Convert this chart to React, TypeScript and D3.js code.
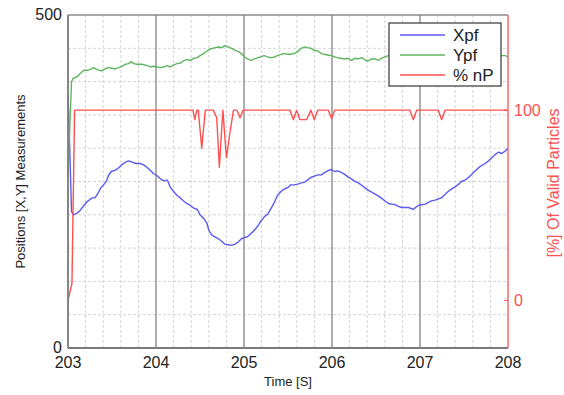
import React from "react";
import * as d3 from "d3";

// ---- data (time [s], value) ----
const xpf: [number, number][] = [
  [203.0, 380], [203.02, 300], [203.04, 205], [203.06, 200], [203.1, 202], [203.14, 207], [203.18, 214],
  [203.22, 220], [203.27, 225], [203.31, 226], [203.34, 232], [203.37, 240], [203.41, 246], [203.44, 251],
  [203.46, 259], [203.49, 265], [203.54, 267], [203.58, 271], [203.61, 275], [203.65, 279], [203.69, 281],
  [203.73, 279], [203.77, 277], [203.82, 277], [203.86, 275], [203.9, 271], [203.94, 266], [203.97, 262],
  [204.01, 259], [204.05, 254], [204.09, 251], [204.13, 252], [204.16, 242], [204.2, 235], [204.24, 229],
  [204.28, 225], [204.31, 221], [204.35, 217], [204.39, 214], [204.43, 210], [204.47, 208], [204.5, 200],
  [204.54, 195], [204.58, 187], [204.6, 177], [204.63, 170], [204.67, 167], [204.71, 164], [204.75, 160],
  [204.78, 156], [204.82, 155], [204.86, 154], [204.9, 156], [204.94, 160], [204.97, 164], [205.01, 166],
  [205.04, 167], [205.08, 172], [205.12, 177], [205.16, 184], [205.19, 190], [205.23, 197], [205.27, 201],
  [205.31, 210], [205.35, 220], [205.38, 229], [205.42, 235], [205.46, 239], [205.5, 241], [205.53, 245],
  [205.57, 245], [205.61, 246], [205.65, 248], [205.69, 249], [205.72, 252], [205.76, 256], [205.8, 258],
  [205.84, 260], [205.88, 260], [205.91, 263], [205.95, 266], [205.99, 268], [206.03, 265], [206.06, 266],
  [206.1, 264], [206.14, 261], [206.18, 257], [206.22, 254], [206.25, 251], [206.3, 248], [206.34, 244],
  [206.38, 240], [206.41, 237], [206.45, 234], [206.49, 231], [206.53, 228], [206.56, 225], [206.6, 221],
  [206.64, 217], [206.68, 216], [206.72, 215], [206.75, 213], [206.79, 211], [206.83, 211], [206.87, 211],
  [206.91, 209], [206.92, 208], [206.94, 210], [206.98, 214], [207.02, 215], [207.06, 216], [207.1, 219],
  [207.13, 221], [207.17, 222], [207.21, 224], [207.25, 226], [207.28, 230], [207.32, 235], [207.36, 239],
  [207.4, 242], [207.44, 246], [207.47, 250], [207.51, 252], [207.55, 256], [207.59, 261], [207.62, 265],
  [207.66, 270], [207.7, 274], [207.74, 277], [207.78, 281], [207.81, 285], [207.85, 290], [207.89, 294],
  [207.93, 292], [207.97, 296], [208.0, 300],
];

const ypf: [number, number][] = [
  [203.0, 260], [203.02, 330], [203.04, 400], [203.06, 405], [203.1, 407], [203.14, 412], [203.18, 417],
  [203.22, 417], [203.25, 418], [203.29, 421], [203.33, 418], [203.38, 416], [203.42, 419], [203.46, 421],
  [203.5, 420], [203.54, 419], [203.58, 421], [203.61, 423], [203.65, 426], [203.69, 427], [203.72, 430],
  [203.75, 427], [203.78, 426], [203.84, 426], [203.9, 424], [203.94, 422], [203.97, 423], [204.01, 422],
  [204.05, 421], [204.09, 422], [204.13, 424], [204.16, 422], [204.2, 425], [204.24, 427], [204.28, 428],
  [204.31, 431], [204.35, 433], [204.39, 432], [204.43, 435], [204.47, 436], [204.5, 439], [204.54, 442],
  [204.58, 446], [204.62, 449], [204.65, 450], [204.67, 451], [204.71, 452], [204.75, 451], [204.78, 454],
  [204.82, 452], [204.86, 450], [204.9, 447], [204.94, 445], [204.97, 442], [205.01, 437], [205.04, 434],
  [205.08, 432], [205.12, 434], [205.16, 436], [205.19, 437], [205.23, 439], [205.27, 437], [205.31, 436],
  [205.35, 437], [205.38, 439], [205.42, 441], [205.46, 442], [205.5, 441], [205.53, 441], [205.57, 442],
  [205.61, 445], [205.65, 450], [205.69, 452], [205.72, 451], [205.76, 450], [205.8, 447], [205.84, 446],
  [205.88, 442], [205.91, 441], [205.95, 440], [205.99, 439], [206.03, 437], [206.06, 436], [206.1, 435],
  [206.14, 434], [206.18, 435], [206.22, 432], [206.26, 435], [206.3, 434], [206.34, 436], [206.38, 432],
  [206.41, 431], [206.45, 434], [206.49, 434], [206.53, 432], [206.56, 435], [206.6, 437], [206.64, 439],
  [206.8, 440], [207.0, 437], [207.2, 440], [207.4, 442], [207.6, 440], [207.8, 439], [207.93, 439],
  [207.97, 439], [208.0, 437],
];

const pctNP: [number, number][] = [
  [203.0, 0], [203.045, 9], [203.075, 100], [204.42, 100], [204.44, 95], [204.465, 100], [204.48, 100],
  [204.52, 80], [204.56, 100], [204.65, 100], [204.69, 96], [204.72, 70], [204.76, 100], [204.8, 75],
  [204.84, 88], [204.88, 100], [204.92, 100], [204.955, 96], [204.99, 100], [205.523, 100], [205.561, 95],
  [205.598, 100], [205.636, 95], [205.712, 95], [205.761, 100], [205.799, 95], [205.837, 100], [205.958, 100],
  [205.996, 95.5], [206.03, 100], [206.886, 100], [206.924, 95], [206.962, 100], [207.208, 100],
  [207.246, 95], [207.284, 100], [208.0, 100],
];

const xTicks = [203, 204, 205, 206, 207, 208];
const leftTicks = [0, 500];
const rightTicks = [0, 100];
const seriesNames = ["Xpf", "Ypf", "% nP"];

// ---- layout ----
const W = 564, H = 395;
const L = 68, R = 508, T = 15, B = 348;
const FONT = "'Liberation Sans', Arial, Helvetica, sans-serif";
const BLUE = "#5a5af2", GREEN = "#5fb65f", RED = "#ff4f4f";

export default function App() {
  const x = d3.scaleLinear().domain([203, 208]).range([L, R]);
  const yL = d3.scaleLinear().domain([0, 500]).range([B, T]);
  const yR = d3.scaleLinear().domain([-25, 150]).range([B, T]);

  const lineL = d3.line<[number, number]>().x(d => x(d[0])).y(d => yL(d[1]));
  const lineR = d3.line<[number, number]>().x(d => x(d[0])).y(d => yR(d[1]));

  const minorX = d3.range(203, 208.001, 0.2).filter(v => Math.abs(v - Math.round(v)) > 0.01);
  const majorX = [204, 205, 206, 207];
  const minorY = d3.range(50, 500, 50);

  const colors = [BLUE, GREEN, RED];

  return (
    <svg width={W} height={H} style={{ position: "absolute", left: 0, top: 0, background: "#fff" }} fontFamily={FONT}>
      <defs>
        <clipPath id="plot">
          <rect x={L} y={T} width={R - L} height={B - T} />
        </clipPath>
      </defs>
      <rect x={0} y={0} width={W} height={H} fill="#fff" />
      {/* minor grid */}
      {minorX.map((v, i) => (
        <line key={"mx" + i} x1={x(v)} x2={x(v)} y1={T} y2={B} stroke="#d4d4d4" strokeWidth={1} strokeDasharray="3,2" />
      ))}
      {minorY.map((v, i) => (
        <line key={"my" + i} x1={L} x2={R} y1={yL(v)} y2={yL(v)} stroke="#d4d4d4" strokeWidth={1} strokeDasharray="3,2" />
      ))}
      {/* major grid */}
      {majorX.map((v, i) => (
        <line key={"Mx" + i} x1={x(v)} x2={x(v)} y1={T} y2={B} stroke="#7a7a7a" strokeWidth={1.2} />
      ))}
      {/* series */}
      <g clipPath="url(#plot)" fill="none" strokeWidth={1.4} strokeLinejoin="round">
        <path d={lineL(xpf) || ""} stroke={BLUE} />
        <path d={lineL(ypf) || ""} stroke={GREEN} />
        <path d={lineR(pctNP) || ""} stroke={RED} />
      </g>
      {/* frame */}
      <line x1={L} x2={R} y1={T} y2={T} stroke="#8a8a8a" strokeWidth={1.5} />
      <line x1={L} x2={R} y1={B} y2={B} stroke="#7a7a7a" strokeWidth={1.8} />
      <line x1={L} x2={L} y1={T} y2={B} stroke="#7a7a7a" strokeWidth={1.8} />
      <line x1={R} x2={R} y1={T} y2={B} stroke={RED} strokeWidth={1.3} />
      {/* x ticks */}
      {xTicks.map(v => (
        <text key={"xt" + v} x={x(v)} y={368} fontSize={16} textAnchor="middle" fill="#222">{v}</text>
      ))}
      {/* left ticks */}
      {leftTicks.map(v => (
        <text key={"lt" + v} x={L - 6} y={yL(v) + 5} fontSize={16} textAnchor="end" fill="#222">{v}</text>
      ))}
      {/* right ticks */}
      {rightTicks.map(v => (
        <g key={"rt" + v}>
          <line x1={R - 4} x2={R} y1={yR(v)} y2={yR(v)} stroke={RED} strokeWidth={1} />
          <text x={R + 6} y={yR(v) + 6} fontSize={16} textAnchor="start" fill={RED}>{v}</text>
        </g>
      ))}
      {/* axis titles */}
      <text x={288} y={386} fontSize={13} textAnchor="middle" fill="#222">Time [S]</text>
      <text transform={`translate(25,${(T + B) / 2}) rotate(-90)`} fontSize={13} textAnchor="middle" fill="#222">
        Positions [X,Y] Measurements
      </text>
      <text transform={`translate(559,183) rotate(-90)`} fontSize={16} textAnchor="middle" fill={RED}>
        [%] Of Valid Particles
      </text>
      {/* legend */}
      <g>
        <rect x={389} y={23} width={112} height={63} fill="#fff" stroke="#444" strokeWidth={1.3} />
        {seriesNames.map((n, i) => (
          <g key={n}>
            <line x1={400} x2={445} y1={35 + i * 20} y2={35 + i * 20} stroke={colors[i]} strokeWidth={1.4} />
            <text x={453} y={35 + i * 20 + 6} fontSize={17} fill="#222">{n}</text>
          </g>
        ))}
      </g>
    </svg>
  );
}
